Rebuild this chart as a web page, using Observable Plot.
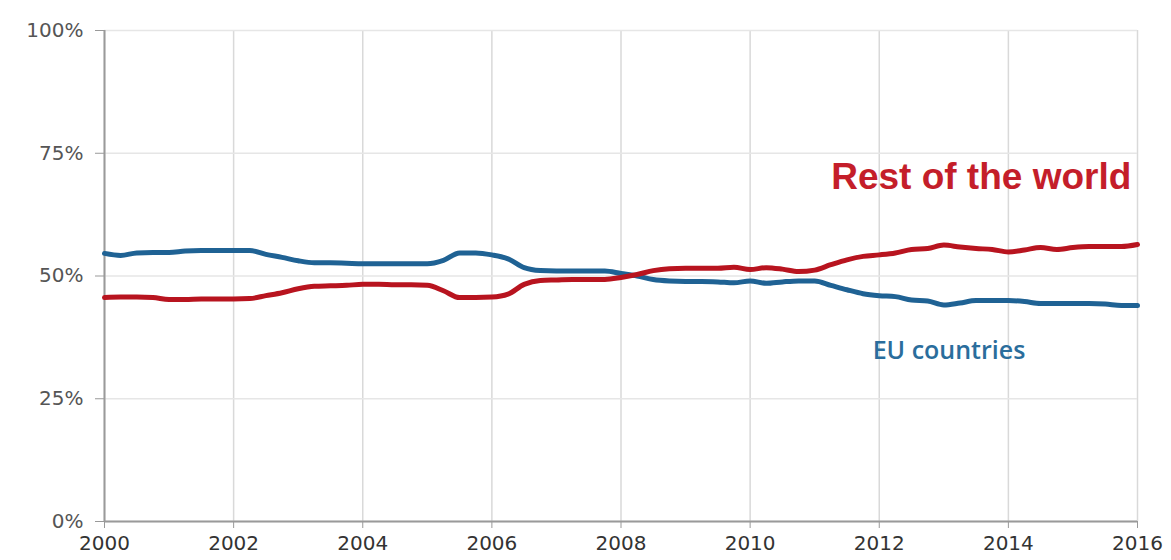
<!DOCTYPE html>
<html>
<head>
<meta charset="utf-8">
<script src="https://cdn.jsdelivr.net/npm/d3@7"></script>
<script src="https://cdn.jsdelivr.net/npm/@observablehq/plot@0.6"></script>
<style>
  html, body { margin: 0; padding: 0; background: #fff; }
  #chart svg { display: block; }
</style>
</head>
<body>
<div id="chart"></div>
<script>
// Quarterly time points (decimal years)
const times = [
  2000.00, 2000.25, 2000.50, 2000.75, 2001.00, 2001.25, 2001.50, 2001.75,
  2002.00, 2002.25, 2002.50, 2002.75, 2003.00, 2003.25, 2003.50, 2003.75,
  2004.00, 2004.25, 2004.50, 2004.75, 2005.00, 2005.25, 2005.50, 2005.75,
  2006.00, 2006.25, 2006.50, 2006.75, 2007.00, 2007.25, 2007.50, 2007.75,
  2008.00, 2008.25, 2008.50, 2008.75, 2009.00, 2009.25, 2009.50, 2009.75,
  2010.00, 2010.25, 2010.50, 2010.75, 2011.00, 2011.25, 2011.50, 2011.75,
  2012.00, 2012.25, 2012.50, 2012.75, 2013.00, 2013.25, 2013.50, 2013.75,
  2014.00, 2014.25, 2014.50, 2014.75, 2015.00, 2015.25, 2015.50, 2015.75,
  2016.00
];

// Share (%) — EU countries
const euValues = [
  54.6, 54.2, 54.7, 54.8, 54.8, 55.1, 55.2, 55.2,
  55.2, 55.2, 54.4, 53.8, 53.1, 52.7, 52.7, 52.6,
  52.5, 52.5, 52.5, 52.5, 52.5, 53.2, 54.7, 54.7,
  54.3, 53.5, 51.7, 51.1, 51.0, 51.0, 51.0, 51.0,
  50.5, 50.0, 49.3, 49.0, 48.9, 48.9, 48.8, 48.6,
  49.0, 48.5, 48.8, 49.0, 49.0, 48.1, 47.2, 46.4,
  46.0, 45.8, 45.1, 44.9, 44.1, 44.5, 45.0, 45.0,
  45.0, 44.8, 44.4, 44.4, 44.4, 44.4, 44.3, 44.0,
  44.0
];

// Share (%) — Rest of the world
const rowValues = [
  45.6, 45.7, 45.7, 45.6, 45.2, 45.2, 45.3, 45.3,
  45.3, 45.4, 46.0, 46.6, 47.4, 47.9, 48.0, 48.1,
  48.3, 48.3, 48.2, 48.2, 48.1, 47.0, 45.6, 45.6,
  45.7, 46.3, 48.3, 49.1, 49.2, 49.3, 49.3, 49.3,
  49.7, 50.3, 51.1, 51.5, 51.6, 51.6, 51.6, 51.8,
  51.3, 51.7, 51.4, 50.9, 51.2, 52.3, 53.3, 54.0,
  54.3, 54.7, 55.4, 55.6, 56.3, 55.9, 55.6, 55.4,
  54.9, 55.3, 55.8, 55.4, 55.8, 56.0, 56.0, 56.0,
  56.4
];

const xTicks = [2000, 2002, 2004, 2006, 2008, 2010, 2012, 2014, 2016];
const yTicks = [0, 25, 50, 75, 100];

const seriesNames = ["EU countries", "Rest of the world"];
const seriesColors = ["#1f6294", "#b8141f"];
const labelColors = ["#2a6d9c", "#c41e2a"];
// label positions in data space (year, percent)
const labelX = [2013.08, 2013.58];
const labelY = [34.8, 70.1];

const euData = times.map((t, i) => ({t, v: euValues[i]}));
const rowData = times.map((t, i) => ({t, v: rowValues[i]}));

const chart = Plot.plot({
  width: 1171,
  height: 560,
  marginLeft: 104,
  marginRight: 34,
  marginTop: 30,
  marginBottom: 39,
  style: {
    fontFamily: "'DejaVu Sans', Verdana, sans-serif",
    fontSize: "20px",
    color: "#444",
    background: "#fff"
  },
  x: {domain: [2000, 2016], label: null},
  y: {domain: [0, 100], label: null},
  marks: [
    Plot.gridX(xTicks, {stroke: "#d9d9d9", strokeOpacity: 1, strokeWidth: 1.5}),
    Plot.gridY(yTicks, {stroke: "#e6e6e6", strokeOpacity: 1, strokeWidth: 1.5}),
    Plot.axisX({ticks: xTicks, tickFormat: d => String(d), tickSize: 7, tickPadding: 7, stroke: "#999", fill: "#333"}),
    Plot.axisY({ticks: yTicks, tickFormat: d => d + "%", tickSize: 9, tickPadding: 12, stroke: "#999", fill: "#555", style: "letter-spacing: 1.5px"}),
    Plot.ruleX([2000], {stroke: "#9a9a9a", strokeWidth: 2}),
    Plot.ruleY([0], {stroke: "#9a9a9a", strokeWidth: 2}),
    Plot.line(euData, {x: "t", y: "v", stroke: seriesColors[0], strokeWidth: 5, curve: "monotone-x"}),
    Plot.line(rowData, {x: "t", y: "v", stroke: seriesColors[1], strokeWidth: 5, curve: "monotone-x"}),
    Plot.text([0], {x: () => labelX[0], y: () => labelY[0], text: () => seriesNames[0], fill: labelColors[0], fontSize: 25, fontWeight: 600, fontFamily: "'Open Sans', sans-serif", textAnchor: "middle"}),
    Plot.text([0], {x: () => labelX[1], y: () => labelY[1], text: () => seriesNames[1], fill: labelColors[1], fontSize: 37, fontWeight: "bold", fontFamily: "'Liberation Sans', Arial, sans-serif", textAnchor: "middle"})
  ]
});

document.getElementById("chart").appendChild(chart);
</script>
</body>
</html>
